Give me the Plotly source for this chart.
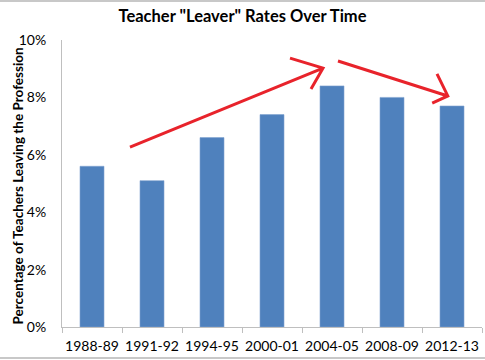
import plotly.graph_objects as go

categories = ["1988-89", "1991-92", "1994-95", "2000-01", "2004-05", "2008-09", "2012-13"]
leaver_rates = [5.6, 5.1, 6.6, 7.4, 8.4, 8.0, 7.7]
y_ticks = [0, 2, 4, 6, 8, 10]

FONT = "Lato"
W, H = 485, 360
L, R, T, B = 62, 3, 40, 33
PW, PH = W - L - R, H - T - B

fig = go.Figure()
fig.add_trace(go.Bar(
    x=categories, y=leaver_rates,
    marker=dict(color="#4F81BD", line=dict(color="#7FA3D0", width=0.6)),
    width=0.4,
))

red = "#E8232B"
def arrow(x0, y0, x1, y1, a1, a2):
    path = f"M {x0},{y0} L {x1},{y1} M {a1[0]},{a1[1]} L {x1},{y1} L {a2[0]},{a2[1]}"
    return dict(type="path", xref="x", yref="y", path=path,
                line=dict(color=red, width=3))

shapes = [
    arrow(0.633, 6.27, 3.85, 9.02, (3.30, 9.37), (3.65, 8.29)),
    arrow(4.10, 9.27, 5.93, 8.05, (5.75, 8.82), (5.67, 7.80)),
    dict(type="line", xref="paper", yref="paper", x0=-L/PW, x1=(W - L)/PW,
         y0=1 + (T - 1)/PH, y1=1 + (T - 1)/PH, line=dict(color="#C8C8C8", width=2)),
    dict(type="line", xref="paper", yref="paper", x0=-L/PW, x1=(W - L)/PW,
         y0=-(B - 2)/PH, y1=-(B - 2)/PH, line=dict(color="#C8C8C8", width=2)),
]

fig.update_layout(
    width=W, height=H,
    margin=dict(l=L, r=R, t=T, b=B, autoexpand=False),
    paper_bgcolor="white", plot_bgcolor="white",
    showlegend=False,
    title=dict(text='<b>Teacher "Leaver" Rates Over Time</b>', x=0.5, xanchor="center",
               y=1 - 16/H, yanchor="middle",
               font=dict(family=FONT, size=16.5, color="#000000")),
    font=dict(family=FONT, color="#000000"),
    shapes=shapes,
    bargap=0.6,
    annotations=[dict(
        text="<b>Percentage of Teachers Leaving the Profession</b>",
        textangle=-90, xref="paper", yref="paper",
        x=-(L - 17)/PW, y=0.5 - 3/PH, xanchor="center", yanchor="middle",
        showarrow=False, font=dict(family=FONT, size=13.5, color="#000000"),
    )],
)

fig.update_xaxes(
    type="category", showline=True, linecolor="#BFBFBF", linewidth=1,
    ticks="outside", tickson="boundaries", ticklen=5, tickcolor="#BFBFBF",
    tickangle=0, ticklabelstandoff=6,
    tickfont=dict(family=FONT, size=14, color="#000000"),
    showgrid=False, zeroline=False, automargin=False,
)
fig.update_yaxes(
    range=[0, 10], tickvals=y_ticks, ticktext=[f"{v}%" for v in y_ticks],
    showline=True, linecolor="#BFBFBF", linewidth=1, ticks="",
    ticklabelstandoff=12,
    tickfont=dict(family=FONT, size=14, color="#000000"),
    showgrid=False, zeroline=False, automargin=False,
)

fig.write_html(
    "out.html",
    config={"displayModeBar": False, "staticPlot": True},
    post_script=("document.body.style.margin='0';document.body.style.overflow='hidden';"
                 "document.documentElement.style.overflow='hidden';"),
)
